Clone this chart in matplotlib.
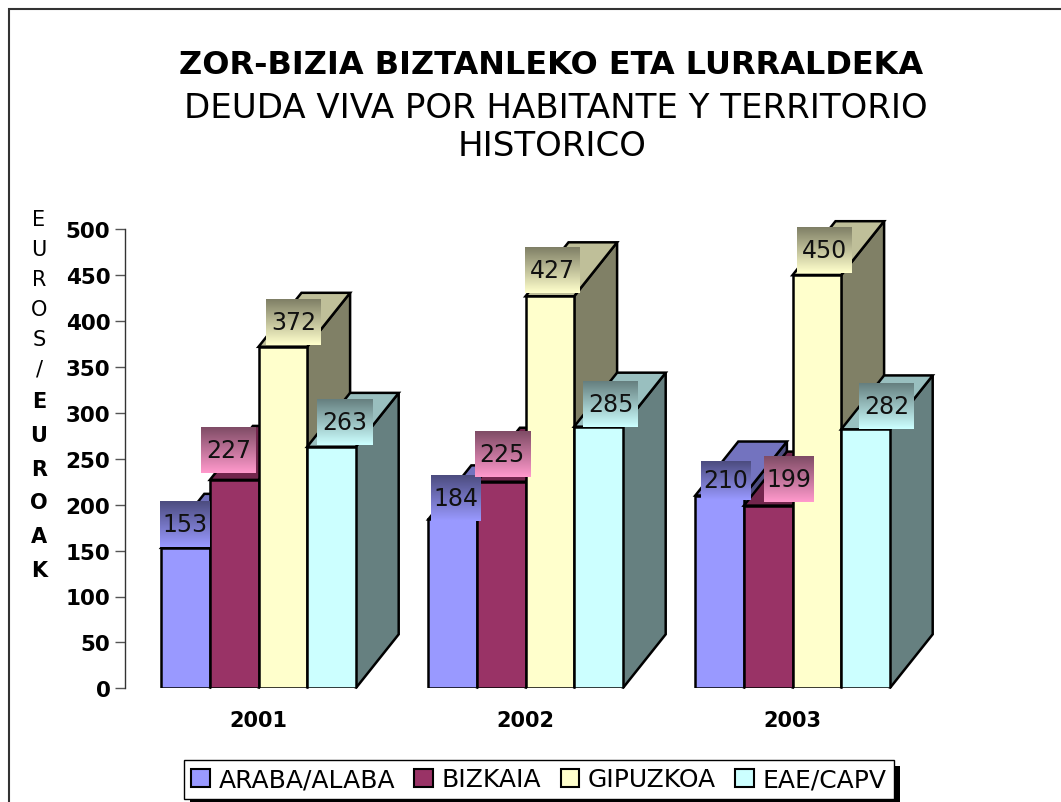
import numpy as np
import matplotlib
matplotlib.use('Agg')
import matplotlib.pyplot as plt
import matplotlib.patheffects as pe
from matplotlib.patches import Patch, Polygon, Rectangle

# datos
years = ['2001', '2002', '2003']
territorios = ['ARABA/ALABA', 'BIZKAIA', 'GIPUZKOA', 'EAE/CAPV']
araba = [153, 184, 210]
bizkaia = [227, 225, 199]
gipuzkoa = [372, 427, 450]
eae = [263, 285, 282]
yticks = [0, 50, 100, 150, 200, 250, 300, 350, 400, 450, 500]
series = [araba, bizkaia, gipuzkoa, eae]

colores = ['#9999ff', '#993366', '#ffffcc', '#ccffff']
colores_rotulo = ['#9999ff', '#ff99cc', '#ffffcc', '#ccffff']

# los rotulos estan movidos a mano en el original (pixeles respecto a la barra)
shift_x = [[-1, 3, 6.5], [-5.5, 1, 21], [11, 2.5, 8], [13, 12.5, 21.5]]
shift_y = [[1, -2, -4], [7, 4.5, 4], [2, 3, 2], [2, 0, 0]]
alto_especial = {(0, 2): 39}  # el 210 es mas bajo que los demas

W, H = 1061, 803
fig = plt.figure(figsize=(W / 100, H / 100), dpi=100)
ax = fig.add_axes([125 / W, (H - 689.3) / H, 801 / W, 459 / H])
ax.set_xlim(-0.5, 2.5)
ax.set_ylim(0, 500)

# factores pixel -> dato
px_x = 3 / 801
px_y = 500 / 459
ancho = 48.6 * px_x
dx = 43 * px_x
dy = 54 * px_y


def oscurecer(color, f):
    r, g, b = matplotlib.colors.to_rgb(color)
    return (r * f, g * f, b * f)


# barras "3D", de izquierda a derecha para que se tapen bien
z = 2
for i, valores in enumerate(series):
    c = colores[i]
    for g, v in enumerate(valores):
        x0 = g + (i - 2) * ancho
        x1 = x0 + ancho
        lado = [(x1, 0), (x1 + dx, dy), (x1 + dx, v + dy), (x1, v)]
        tapa = [(x0, v), (x0 + dx, v + dy), (x1 + dx, v + dy), (x1, v)]
        ax.add_patch(Polygon(lado, fc=oscurecer(c, 0.5), ec='k', lw=1.8, zorder=z, clip_on=False))
        ax.add_patch(Polygon(tapa, fc=oscurecer(c, 0.75), ec='k', lw=1.8, zorder=z, clip_on=False))
    ax.bar(np.arange(3) + (i - 1.5) * ancho, valores, ancho, color=c, edgecolor='k', linewidth=1.8, zorder=z + 0.5)
    z += 1

# rotulos con degradado
for i, valores in enumerate(series):
    claro = np.array(matplotlib.colors.to_rgb(colores_rotulo[i]))
    oscuro = claro * 0.5
    t = np.linspace(0, 1, 46)[:, None, None]
    grad = oscuro * (1 - t) + claro * t
    for g, v in enumerate(valores):
        txt = str(v)
        ancho_caja = 50 if '1' in txt else 55
        alto_caja = alto_especial.get((i, g), 46)
        xc = g + (i - 1.5) * ancho + shift_x[i][g] * px_x
        y0 = v + shift_y[i][g] * px_y
        y1 = y0 + alto_caja * px_y
        ax.imshow(grad, extent=(xc - ancho_caja / 2 * px_x, xc + ancho_caja / 2 * px_x, y0, y1),
                  aspect='auto', zorder=z, clip_on=False, interpolation='bilinear')
        ax.text(xc, (y0 + y1) / 2, txt, ha='center', va='center', fontsize=17, zorder=z + 0.5, color='#111111')
        z += 1

ax.set_xlim(-0.5, 2.5)
ax.set_ylim(0, 500)

# ejes
ax.patch.set_alpha(0)
for lado in ['top', 'right', 'bottom']:
    ax.spines[lado].set_visible(False)
ax.spines['left'].set_color('#333333')
ax.spines['left'].set_linewidth(1)
ax.set_yticks(yticks)
ax.set_xticks(range(3))
ax.set_xticklabels(years, fontweight='bold', fontsize=15)
ax.tick_params(axis='x', length=0, pad=15.5)
ax.tick_params(axis='y', length=7, width=1, color='#555555', pad=3.5, labelsize=15.5)
for lab in ax.get_yticklabels():
    lab.set_fontweight('bold')

# titulos
fig.text(551 / W, 1 - 65 / H, 'ZOR-BIZIA BIZTANLEKO ETA LURRALDEKA', ha='center', va='center',
         fontsize=23, fontweight='bold')
fig.text(556 / W, 1 - 108.5 / H, 'DEUDA VIVA POR HABITANTE Y TERRITORIO', ha='center', va='center', fontsize=24.5)
fig.text(552 / W, 1 - 146 / H, 'HISTORICO', ha='center', va='center', fontsize=24.5)

# titulo del eje en vertical
fig.text(39 / W, 1 - 210 / H, '\n'.join('EUROS/'), ha='center', va='top', fontsize=15, linespacing=1.62)
fig.text(39 / W, 1 - 392 / H, '\n'.join('EUROAK'), ha='center', va='top', fontsize=15, linespacing=1.86,
         fontweight='bold')

# marco exterior, cortado por la derecha y por abajo
fig.add_artist(Rectangle((9 / W, -0.05), 1.1, 1 - 10 / H + 0.05, transform=fig.transFigure,
                         fc='none', ec='#333333', lw=1.5))

# leyenda
handles = [Patch(fc=c, ec='k', lw=1.5) for c in colores]
ley = fig.legend(handles, territorios, ncol=4, loc='center', bbox_to_anchor=(539 / W, 1 - 780.5 / H),
                 fontsize=18, frameon=True, fancybox=False, edgecolor='k', framealpha=1,
                 handlelength=0.75, handleheight=0.7, handletextpad=0.35, columnspacing=0.76, borderpad=0.3)
ley.get_frame().set_path_effects([pe.withSimplePatchShadow(offset=(4.3, -4.3), shadow_rgbFace='k', alpha=1)])

fig.savefig('out.png', dpi=100)
